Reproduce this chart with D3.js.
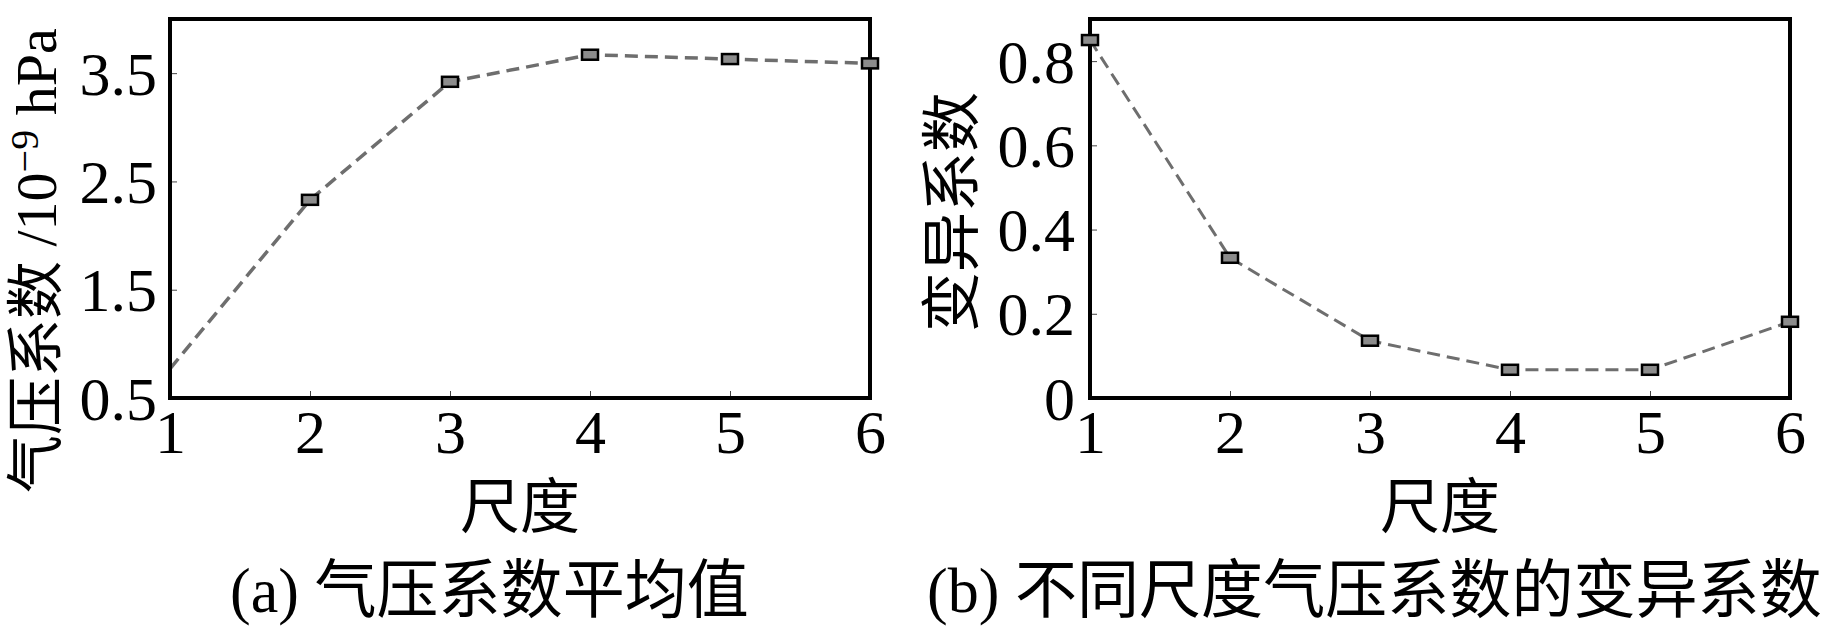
<!DOCTYPE html>
<html>
<head>
    <meta charset="utf-8">
    <title>气压系数平均值与变异系数</title>
    <script src="https://d3js.org/d3.v7.min.js"></script>
    <style>
        body { margin: 0; background: #fff; }
        svg { display: block; }
        text { font-family: "Liberation Serif", "Noto Sans CJK SC", serif; fill: #000; }
    </style>
</head>
<body>
<svg id="chart" width="1843" height="638"></svg>

<script>
    // scales (x axis) shared by both panels
    const scales = [1, 2, 3, 4, 5, 6];

    // (a) mean pressure coefficient, 10^-9 hPa
    const meanValues = [0.77, 2.33, 3.42, 3.67, 3.63, 3.59];
    const meanTicks = [0.5, 1.5, 2.5, 3.5];

    // (b) coefficient of variation
    const cvValues = [0.85, 0.333, 0.136, 0.067, 0.067, 0.181];
    const cvTicks = [0, 0.2, 0.4, 0.6, 0.8];

    const svg = d3.select("#chart");
    const plotTop = 19, plotBottom = 398;

    const panels = [
        { left: 170, right: 870, values: meanValues, domain: [0.5, 4.0], ticks: meanTicks,
          fmt: d3.format(".1f"), firstMarker: false, caption: "(a) 气压系数平均值",
          capX: 230, capW: 519, pad: 13, lw: 3.5 },
        { left: 1090, right: 1790, values: cvValues, domain: [0, 0.9], ticks: cvTicks,
          fmt: d => d === 0 ? "0" : d3.format(".1f")(d), firstMarker: true,
          caption: "(b) 不同尺度气压系数的变异系数", capX: 927, capW: 895, pad: 15, lw: 3 }
    ];

    panels.forEach((p, k) => {
        const x = d3.scaleLinear().domain([1, 6]).range([p.left, p.right]);
        const y = d3.scaleLinear().domain(p.domain).range([plotBottom, plotTop]);
        const g = svg.append("g");

        // inward ticks
        const xAxis = g.append("g")
            .attr("transform", `translate(0,${plotBottom})`)
            .call(d3.axisBottom(x).tickValues(scales).tickSize(-7).tickPadding(11).tickFormat(d3.format("d")));
        const yAxis = g.append("g")
            .attr("transform", `translate(${p.left},0)`)
            .call(d3.axisLeft(y).tickValues(p.ticks).tickSize(-7).tickPadding(p.pad).tickFormat(p.fmt));

        [xAxis, yAxis].forEach(a => {
            a.select(".domain").remove();
            a.selectAll(".tick line").attr("stroke", "#444").attr("stroke-width", 1);
            a.selectAll(".tick text")
                .attr("font-family", "Liberation Serif, serif")
                .attr("font-size", 62)
                .attr("fill", "#000");
        });
        yAxis.selectAll(".tick text").attr("dy", "0.34em");

        // clip for the line
        const clipId = "clip" + k;
        svg.append("clipPath").attr("id", clipId)
            .append("rect")
            .attr("x", p.left).attr("y", plotTop)
            .attr("width", p.right - p.left).attr("height", plotBottom - plotTop);

        const line = d3.line()
            .x((d, i) => x(scales[i]))
            .y(d => y(d));

        g.append("path")
            .datum(p.values)
            .attr("clip-path", `url(#${clipId})`)
            .attr("d", line)
            .attr("fill", "none")
            .attr("stroke", "#6e6e6e")
            .attr("stroke-width", p.lw)
            .attr("stroke-dasharray", "13,7");

        // frame
        g.append("rect")
            .attr("x", p.left).attr("y", plotTop)
            .attr("width", p.right - p.left).attr("height", plotBottom - plotTop)
            .attr("fill", "none")
            .attr("stroke", "#000")
            .attr("stroke-width", 4);

        // markers
        const pts = p.values.map((v, i) => ({ s: scales[i], v: v, i: i }))
            .filter(d => p.firstMarker || d.i > 0);
        g.selectAll(".marker")
            .data(pts)
            .enter().append("rect")
            .attr("class", "marker")
            .attr("x", d => x(d.s) - 8)
            .attr("y", d => y(d.v) - 5)
            .attr("width", 16)
            .attr("height", 10)
            .attr("fill", "#8c8c8c")
            .attr("stroke", "#000")
            .attr("stroke-width", 2.5);

        // x title
        g.append("text")
            .attr("x", (p.left + p.right) / 2)
            .attr("y", 528)
            .attr("text-anchor", "middle")
            .attr("font-size", 60)
            .text("尺度");

        // caption, stretched sideways to the reference width
        const cap = g.append("text")
            .attr("font-size", 64)
            .text(p.caption);
        const sx = p.capW / cap.node().getComputedTextLength();
        cap.attr("transform", `translate(${p.capX},612) scale(${sx},1)`);
    });

    // y titles
    const ta = svg.append("text")
        .attr("transform", "translate(56,493) rotate(-90)")
        .attr("font-size", 58);
    ta.append("tspan").text("气压系数 /10");
    ta.append("tspan").attr("font-size", 40).attr("dy", -18).text("−9");
    ta.append("tspan").attr("dy", 18).text(" hPa");

    svg.append("text")
        .attr("transform", "translate(973,212) rotate(-90)")
        .attr("text-anchor", "middle")
        .attr("font-size", 60)
        .text("变异系数");
</script>
</body>
</html>
